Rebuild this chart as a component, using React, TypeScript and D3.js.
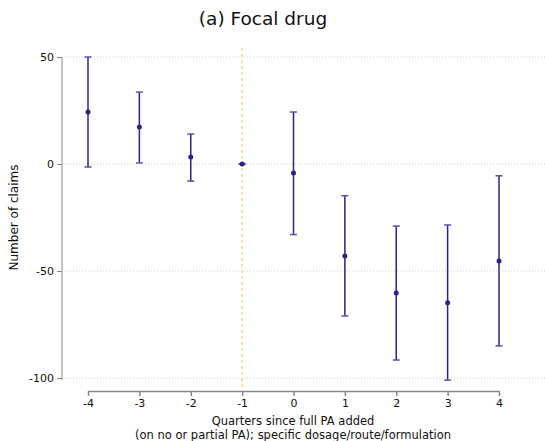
import { useEffect, useRef } from 'react';
import * as d3 from 'd3';

const quarters = [-4, -3, -2, -1, 0, 1, 2, 3, 4];
const estimates = [24.3, 17.3, 3.3, 0, -4.2, -43, -60.3, -64.8, -45.3];
const upperCI = [50, 33.6, 14, 0, 24.3, -14.8, -29, -28.5, -5.5];
const lowerCI = [-1.4, 0.5, -8, 0, -33, -71, -91.6, -101, -85];
const yTicks = [50, 0, -50, -100];

const navy = '#2b2288';
const font = '"DejaVu Sans", sans-serif';

export default function App() {
  const svgRef = useRef<SVGSVGElement>(null);

  useEffect(() => {
    if (!svgRef.current) return;
    const width = 545;
    const height = 441;
    const svg = d3.select(svgRef.current);
    svg.selectAll('*').remove();
    svg.attr('width', width).attr('height', height);

    const x = d3.scaleLinear().domain([-4, 4]).range([88, 499]);
    const y = d3.scaleLinear().domain([-100, 50]).range([378, 57]);

    // gridlines
    svg.append('g')
      .selectAll('line')
      .data(yTicks)
      .join('line')
      .attr('x1', 64)
      .attr('x2', width)
      .attr('y1', (d) => y(d))
      .attr('y2', (d) => y(d))
      .attr('stroke', '#cfcfcf')
      .attr('stroke-width', 1)
      .attr('stroke-dasharray', '1,2');

    // y axis
    const yAxis = svg.append('g')
      .attr('transform', 'translate(62,0)')
      .call(d3.axisLeft(y).tickValues(yTicks).tickSize(5).tickPadding(3).tickSizeOuter(0).tickFormat((d) => String(d)));
    yAxis.select('.domain').attr('stroke', '#888').attr('d', `M0,${y(50)}V${y(-100) + 2}`);
    yAxis.selectAll('.tick line').attr('stroke', '#888');
    yAxis.selectAll('.tick text').attr('font-family', font).attr('font-size', 11).attr('fill', '#111');

    // x axis
    const xAxis = svg.append('g')
      .attr('transform', 'translate(0,391)')
      .call(d3.axisBottom(x).tickValues(quarters).tickSize(5).tickPadding(3).tickSizeOuter(0).tickFormat((d) => String(d)));
    xAxis.select('.domain').attr('stroke', '#888').attr('stroke-width', 1.5);
    xAxis.selectAll('.tick line').attr('stroke', '#888').attr('stroke-width', 1.5);
    xAxis.selectAll('.tick text').attr('font-family', font).attr('font-size', 11).attr('fill', '#111');

    // reference line at -1
    svg.append('line')
      .attr('x1', x(-1))
      .attr('x2', x(-1))
      .attr('y1', 48)
      .attr('y2', 391)
      .attr('stroke', '#f2c744')
      .attr('stroke-width', 1)
      .attr('stroke-dasharray', '3,3');

    const pts = quarters.map((q, i) => ({ q, est: estimates[i], hi: upperCI[i], lo: lowerCI[i] }));
    const g = svg.append('g');
    const capW = 3.5;

    g.selectAll('line.bar')
      .data(pts)
      .join('line')
      .attr('class', 'bar')
      .attr('x1', (d) => x(d.q))
      .attr('x2', (d) => x(d.q))
      .attr('y1', (d) => y(d.hi))
      .attr('y2', (d) => y(d.lo))
      .attr('stroke', navy)
      .attr('stroke-width', 1.5);

    ['hi', 'lo'].forEach((k) => {
      g.selectAll(`line.cap-${k}`)
        .data(pts)
        .join('line')
        .attr('class', `cap-${k}`)
        .attr('x1', (d) => x(d.q) - capW)
        .attr('x2', (d) => x(d.q) + capW)
        .attr('y1', (d) => y((d as any)[k]))
        .attr('y2', (d) => y((d as any)[k]))
        .attr('stroke', '#5a50b0')
        .attr('stroke-width', 1.5);
    });

    g.selectAll('circle')
      .data(pts)
      .join('circle')
      .attr('cx', (d) => x(d.q))
      .attr('cy', (d) => y(d.est))
      .attr('r', 2.5)
      .attr('fill', navy);

    // titles
    svg.append('text')
      .attr('x', 263)
      .attr('y', 25)
      .attr('text-anchor', 'middle')
      .attr('font-family', font)
      .attr('font-size', 18.5)
      .attr('fill', '#111')
      .text('(a) Focal drug');

    svg.append('text')
      .attr('transform', `translate(18,${(y(50) + y(-100)) / 2}) rotate(-90)`)
      .attr('text-anchor', 'middle')
      .attr('font-family', font)
      .attr('font-size', 12)
      .attr('fill', '#111')
      .text('Number of claims');

    svg.append('text')
      .attr('x', 293)
      .attr('y', 425)
      .attr('text-anchor', 'middle')
      .attr('font-family', font)
      .attr('font-size', 11.5)
      .attr('fill', '#111')
      .text('Quarters since full PA added');

    svg.append('text')
      .attr('x', 293)
      .attr('y', 439)
      .attr('text-anchor', 'middle')
      .attr('font-family', font)
      .attr('font-size', 11.5)
      .attr('fill', '#111')
      .text('(on no or partial PA); specific dosage/route/formulation');
  }, []);

  return (
    <div style={{ position: 'absolute', left: 0, top: 0, background: '#fff' }}>
      <svg ref={svgRef} style={{ display: 'block' }} />
    </div>
  );
}
